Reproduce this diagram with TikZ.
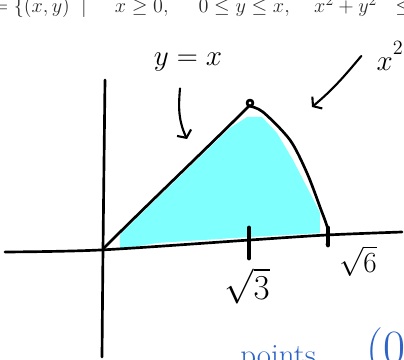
\documentclass[tikz,border=0pt]{standalone}
\usepackage{amsmath, amssymb}
\usepackage{tikz}
\usetikzlibrary{arrows.meta, positioning, calc}
\definecolor{RegionCyan}{HTML}{80FFFF}
\definecolor{InkBlue}{HTML}{2E64C8}
\definecolor{PrintGray}{HTML}{2A2A2A}

\begin{document}
\begin{tikzpicture}[x=0.025cm, y=-0.025cm, >={Straight Barb[length=4pt, width=11pt]},
    ink/.style={line width=1.9pt, line cap=round, line join=round},
    pointer/.style={line width=1.5pt, line cap=round, ->},
    hand/.style={inner sep=0pt, font=\fontsize{21}{25}\selectfont},
    tickmark/.style={line width=3.4pt, line cap=round}]
  \useasboundingbox (0,0) rectangle (404,360);
  \clip (0,0) rectangle (404,360);

  \node[anchor=base west, inner sep=0pt, text=PrintGray, font=\fontsize{15}{18}\selectfont] (set) at (-7.5,12.5) {$=\{(x,y)\;\mid\;\hspace{0.8em}x\ge 0,\quad\; 0\le y\le x,\quad x^2+y^2\hspace{0.6em}\le 6\}$};

  \coordinate (O) at (103,249);
  \coordinate (peak) at (249,106);
  \coordinate (edge) at (327,245);

  \fill[RegionCyan] (120,249) -- (120,235) -- (140,215) -- (170,186) -- (200,157) -- (230,128) -- (247,117) -- (262,117) -- (277,133) -- (293,160) -- (310,193) -- (320,213) -- (320,233) -- (250,237) -- (157,243) -- cycle;

  \draw[ink] plot[smooth] coordinates {(5,252) (100,250) (250,240) (327,235) (402,232)};
  \draw[ink] plot[smooth] coordinates {(105,80) (103,250) (102,357)};
  \draw[ink] (O) .. controls (150,202) and (205,150) .. (peak);
  \draw[ink] plot[smooth] coordinates {(peak) (263,112) (290,140) (307,173) (320,207) (328,230) (edge)};
  \draw[ink] (250,103) circle (3);

  \draw[tickmark] (249,228) -- (249,258);
  \draw[tickmark] (328,228) -- (328,245);

  \node[hand] (yx) at (188,62) {$y=x$};
  \node[hand, font=\fontsize{22}{26}\selectfont] (xsq) at (390,56) {$x^{\raisebox{4pt}{$\scriptstyle 2$}}$};
  \node[hand, font=\fontsize{23}{27}\selectfont] (rt3) at (247,286) {$\sqrt{3}$};
  \node[hand] (rt6) at (358,261) {$\sqrt{6}$};

  \coordinate (yxtip) at (187,139);
  \coordinate (xsqtip) at (312,107);
  \draw[pointer] ($(yx.south)+(-8,17)$) to[out=-95, in=115] (yxtip);
  \draw[pointer] ($(xsq.west)+(-15,0)$) to[out=-130, in=40] (xsqtip);

  \node[anchor=base west, inner sep=0pt, text=InkBlue, font=\fontsize{22}{26}\selectfont] (pts) at (240,366) {points};
  \node[anchor=base west, inner sep=0pt, text=InkBlue, font=\fontsize{34}{40}\selectfont] (orig) at (366,364) {(0};
\end{tikzpicture}
\end{document}
